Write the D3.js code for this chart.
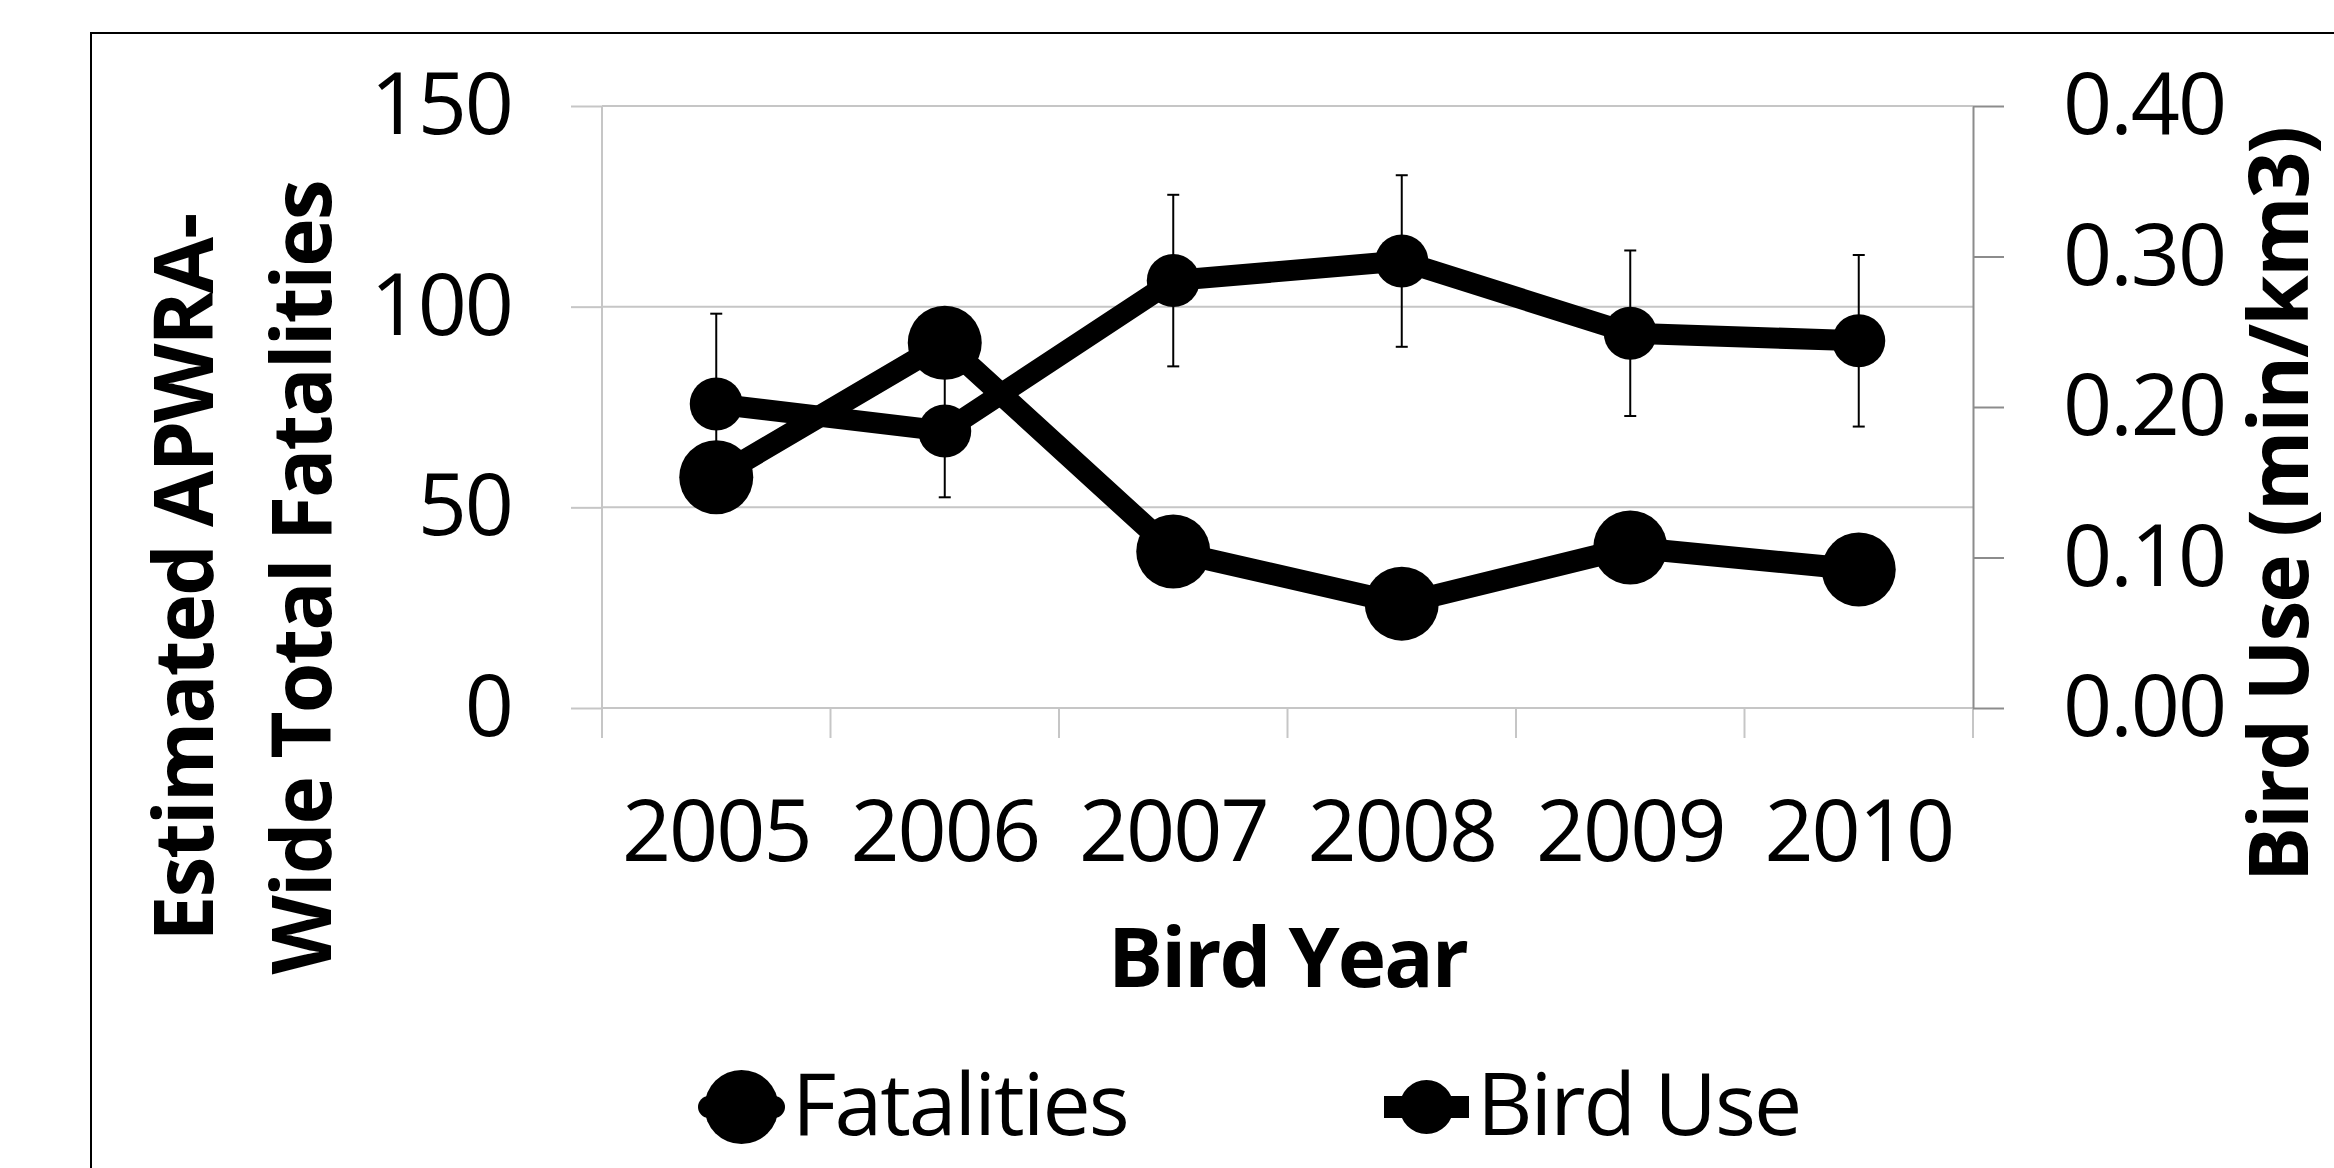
<!DOCTYPE html>
<html>
<head>
<meta charset="utf-8">
<script src="https://cdn.jsdelivr.net/npm/d3@7"></script>
<style>
  body { margin: 0; background: #fff; }
</style>
</head>
<body>
<div id="chart"></div>
<script>
// values
const years = ['2005', '2006', '2007', '2008', '2009', '2010'];
const fatalities = [57.5, 91, 39, 26, 40, 34.5];
const birdUse = [0.202, 0.184, 0.284, 0.297, 0.249, 0.244];
const birdUseErr = [0.060, 0.044, 0.057, 0.057, 0.055, 0.057];
const leftTicks = [0, 50, 100, 150];
const rightTicks = [0, 0.1, 0.2, 0.3, 0.4];

const width = 2334;
const height = 1168;
const plot = {left: 602, right: 1973, top: 106, bottom: 708};
const gridColor = '#c6c6c6';
const axisColor = '#8c8c8c';
const tickFont = 86;
const titleFont = 82;

const svg = d3.select('#chart').append('svg')
  .attr('width', width)
  .attr('height', height)
  .style('font-family', "'Open Sans', sans-serif");

// outer chart border (runs off the right and bottom edges)
svg.append('rect')
  .attr('x', 91).attr('y', 33)
  .attr('width', width).attr('height', height)
  .attr('fill', 'none')
  .attr('stroke', '#000')
  .attr('stroke-width', 2);

const x = d3.scaleBand().domain(years).range([plot.left, plot.right]);
const yL = d3.scaleLinear().domain([0, 150]).range([plot.bottom, plot.top]);
const yR = d3.scaleLinear().domain([0, 0.4]).range([plot.bottom, plot.top]);
const cx = i => x(years[i]) + x.bandwidth() / 2;

// gridlines
svg.append('g')
  .selectAll('line')
  .data(leftTicks)
  .join('line')
    .attr('x1', plot.left)
    .attr('x2', plot.right)
    .attr('y1', d => yL(d))
    .attr('y2', d => yL(d))
    .attr('stroke', gridColor)
    .attr('stroke-width', 2);

function styleTicks(g) {
  g.selectAll('text')
    .attr('font-size', tickFont)
    .attr('font-family', "'Open Sans', sans-serif")
    .attr('letter-spacing', -2)
    .attr('fill', '#000');
}

// left axis
const leftAxis = svg.append('g')
  .attr('transform', `translate(${plot.left},0)`)
  .call(d3.axisLeft(yL).tickValues(leftTicks).tickSize(31).tickSizeOuter(0).tickPadding(59));
leftAxis.select('.domain').remove();
leftAxis.selectAll('line').attr('stroke', gridColor).attr('stroke-width', 2);
styleTicks(leftAxis);

svg.append('line')
  .attr('x1', plot.left).attr('x2', plot.left)
  .attr('y1', plot.top).attr('y2', plot.bottom + 30)
  .attr('stroke', gridColor)
  .attr('stroke-width', 2);

// category ticks between the years
const bounds = years.map(d => x(d)).concat([plot.right]);
svg.append('g')
  .selectAll('line')
  .data(bounds)
  .join('line')
    .attr('x1', d => d).attr('x2', d => d)
    .attr('y1', plot.bottom).attr('y2', plot.bottom + 30)
    .attr('stroke', gridColor)
    .attr('stroke-width', 2);

// year labels
const bottomAxis = svg.append('g')
  .attr('transform', `translate(0,${plot.bottom})`)
  .call(d3.axisBottom(x).tickSize(0).tickPadding(92));
bottomAxis.select('.domain').remove();
styleTicks(bottomAxis);

// right axis
const rightAxis = svg.append('g')
  .attr('transform', `translate(${plot.right},0)`)
  .call(d3.axisRight(yR).tickValues(rightTicks).tickSize(31).tickSizeOuter(0)
    .tickPadding(59).tickFormat(d3.format('.2f')));
rightAxis.select('.domain').attr('stroke', axisColor).attr('stroke-width', 2);
rightAxis.selectAll('line').attr('stroke', axisColor).attr('stroke-width', 2);
styleTicks(rightAxis);

// axis titles
svg.append('text')
  .attr('x', (plot.left + plot.right) / 2)
  .attr('y', 987)
  .attr('text-anchor', 'middle')
  .attr('font-size', titleFont)
  .attr('font-weight', 'bold')
  .attr('letter-spacing', -2)
  .text('Bird Year');

const leftTitle = ['Estimated APWRA-', 'Wide Total Fatalities'];
svg.append('g')
  .selectAll('text')
  .data(leftTitle)
  .join('text')
    .attr('transform', (d, i) => `translate(${213 + i * 118},578) rotate(-90)`)
    .attr('text-anchor', 'middle')
    .attr('font-size', titleFont)
    .attr('font-weight', 'bold')
    .attr('letter-spacing', -2)
    .text(d => d);

svg.append('text')
  .attr('transform', 'translate(2308,505) rotate(-90)')
  .attr('text-anchor', 'middle')
  .attr('font-size', titleFont)
  .attr('font-weight', 'bold')
  .attr('letter-spacing', -2)
  .text('Bird Use (min/km3)');

// Bird Use series with error bars
const birdLine = d3.line()
  .x((d, i) => cx(i))
  .y(d => yR(d));

svg.append('path')
  .datum(birdUse)
  .attr('d', birdLine)
  .attr('fill', 'none')
  .attr('stroke', '#000')
  .attr('stroke-width', 21)
  .attr('stroke-linejoin', 'round');

const err = svg.append('g')
  .attr('stroke', '#000')
  .attr('stroke-width', 2)
  .selectAll('g')
  .data(birdUse)
  .join('g');

err.append('line')
  .attr('x1', (d, i) => cx(i)).attr('x2', (d, i) => cx(i))
  .attr('y1', (d, i) => yR(d - birdUseErr[i]))
  .attr('y2', (d, i) => yR(d + birdUseErr[i]));
err.append('line')
  .attr('x1', (d, i) => cx(i) - 6).attr('x2', (d, i) => cx(i) + 6)
  .attr('y1', (d, i) => yR(d + birdUseErr[i]))
  .attr('y2', (d, i) => yR(d + birdUseErr[i]));
err.append('line')
  .attr('x1', (d, i) => cx(i) - 6).attr('x2', (d, i) => cx(i) + 6)
  .attr('y1', (d, i) => yR(d - birdUseErr[i]))
  .attr('y2', (d, i) => yR(d - birdUseErr[i]));

svg.append('g')
  .selectAll('circle')
  .data(birdUse)
  .join('circle')
    .attr('cx', (d, i) => cx(i))
    .attr('cy', d => yR(d))
    .attr('r', 26.5)
    .attr('fill', '#000');

// Fatalities series
const fatalLine = d3.line()
  .x((d, i) => cx(i))
  .y(d => yL(d));

svg.append('path')
  .datum(fatalities)
  .attr('d', fatalLine)
  .attr('fill', 'none')
  .attr('stroke', '#000')
  .attr('stroke-width', 22)
  .attr('stroke-linejoin', 'round')
  .attr('stroke-linecap', 'round');

svg.append('g')
  .selectAll('circle')
  .data(fatalities)
  .join('circle')
    .attr('cx', (d, i) => cx(i))
    .attr('cy', d => yL(d))
    .attr('r', 37)
    .attr('fill', '#000');

// legend
const legendY = 1107;
const legend = [
  {name: 'Fatalities', x0: 709, x1: 774, r: 37, cap: 'round', textX: 792},
  {name: 'Bird Use', x0: 1384, x1: 1469, r: 27, cap: 'butt', textX: 1477}
];

const item = svg.append('g')
  .selectAll('g')
  .data(legend)
  .join('g');

item.append('line')
  .attr('x1', d => d.x0).attr('x2', d => d.x1)
  .attr('y1', legendY).attr('y2', legendY)
  .attr('stroke', '#000')
  .attr('stroke-width', 22)
  .attr('stroke-linecap', d => d.cap);

item.append('circle')
  .attr('cx', d => (d.x0 + d.x1) / 2)
  .attr('cy', legendY)
  .attr('r', d => d.r)
  .attr('fill', '#000');

item.append('text')
  .attr('x', d => d.textX)
  .attr('y', 1135)
  .attr('font-size', tickFont)
  .attr('letter-spacing', -2)
  .text(d => d.name);
</script>
</body>
</html>
